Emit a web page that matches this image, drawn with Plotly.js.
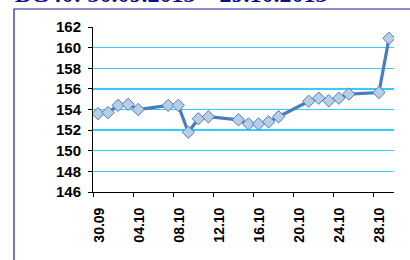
<!DOCTYPE html>
<html>
<head>
<meta charset="utf-8">
<script src="https://cdn.plot.ly/plotly-3.0.1.min.js"></script>
<style>html,body{margin:0;padding:0;background:#fff;}#chart{width:410px;height:260px;}</style>
</head>
<body>
<div id="chart"></div>
<script>
const dates = ['2013-09-30','2013-10-01','2013-10-02','2013-10-03','2013-10-04',
  '2013-10-07','2013-10-08','2013-10-09','2013-10-10','2013-10-11',
  '2013-10-14','2013-10-15','2013-10-16','2013-10-17','2013-10-18',
  '2013-10-21','2013-10-22','2013-10-23','2013-10-24','2013-10-25',
  '2013-10-28','2013-10-29'];
const values = [153.6,153.7,154.4,154.5,154.0,
  154.4,154.4,151.8,153.1,153.3,
  153.0,152.6,152.6,152.8,153.3,
  154.8,155.1,154.85,155.1,155.5,
  155.65,160.9];
const tickDates = ['2013-09-30','2013-10-04','2013-10-08','2013-10-12','2013-10-16','2013-10-20','2013-10-24','2013-10-28'];
const tickLabels = ['30.09','04.10','08.10','12.10','16.10','20.10','24.10','28.10'];
const titleText = 'BG40: 30.09.2013 \u2013 29.10.2013';

const HALF_DAY = 12*3600*1000;
function shift(d, ms){ return new Date(Date.parse(d+'T00:00:00Z') + ms).toISOString().replace('T',' ').slice(0,19); }
const tickPos = tickDates.map(d => shift(d, -HALF_DAY));
const xRange = [shift(dates[0], -HALF_DAY), shift(dates[dates.length-1], HALF_DAY)];

const trace = {
  x: dates, y: values, type: 'scatter', mode: 'lines+markers',
  line: {color: '#4A7EBB', width: 3.2},
  marker: {symbol: 'diamond', size: 9.5, color: '#B9CDE5', line: {color: '#4A7EBB', width: 1}},
  hoverinfo: 'skip'
};

const layout = {
  width: 410, height: 260,
  margin: {l: 93, r: 16, t: 27, b: 68},
  paper_bgcolor: '#fff', plot_bgcolor: '#fff',
  showlegend: false,
  title: {text: titleText, x: 0.036, xanchor: 'left', xref: 'container',
    y: 0.992, yanchor: 'bottom', yref: 'container',
    font: {family: 'Liberation Serif, Times New Roman, serif', size: 24, color: '#10107F', weight: 'bold'}},
  xaxis: {
    type: 'date', range: xRange, tickmode: 'array', tickvals: tickPos, ticktext: tickLabels,
    tickangle: -90, ticklabelshift: 6, ticklabelstandoff: 5, ticks: 'outside', ticklen: 4, tickcolor: '#000', tickwidth: 1,
    showline: true, linecolor: '#000', linewidth: 1, showgrid: false, zeroline: false,
    tickfont: {family: 'Liberation Sans, Arial, sans-serif', size: 14, color: '#000', weight: 'bold'}
  },
  yaxis: {
    range: [146, 162], dtick: 2, tick0: 146, ticks: 'outside', ticklen: 4, tickcolor: '#000',
    ticklabelstandoff: 4,
    showline: true, linecolor: '#000', linewidth: 1, zeroline: false,
    showgrid: true, gridcolor: '#33CCFF', gridwidth: 1.3,
    tickfont: {family: 'Liberation Sans, Arial, sans-serif', size: 15, color: '#000', weight: 'bold'}
  },
  shapes: [{type: 'rect', xref: 'paper', yref: 'paper', x0: -0.2625, x1: 1.2, y0: -0.6, y1: 1.109,
    line: {color: '#1A1A9A', width: 1.2}, fillcolor: 'rgba(0,0,0,0)', layer: 'below'}]
};

Plotly.newPlot('chart', [trace], layout, {displayModeBar: false, staticPlot: true});
</script>
</body>
</html>
